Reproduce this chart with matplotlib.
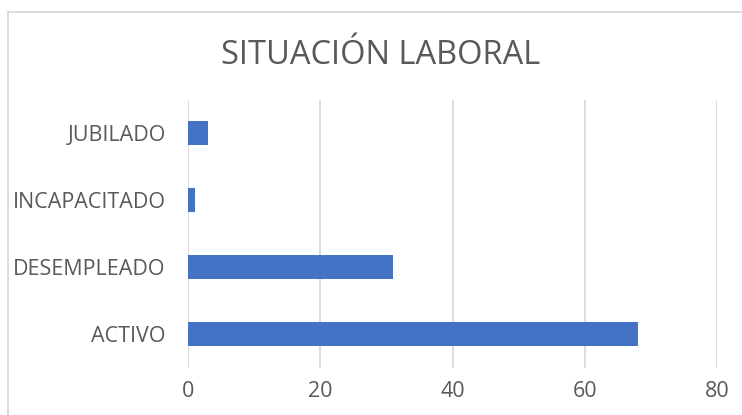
import matplotlib.pyplot as plt
from matplotlib.lines import Line2D

categorias = ["ACTIVO", "DESEMPLEADO", "INCAPACITADO", "JUBILADO"]
valores = [68, 31, 1, 3]
ticks_x = [0, 20, 40, 60, 80]

plt.rcParams['font.family'] = ['Open Sans', 'DejaVu Sans']
gris = "#595959"

fig = plt.figure(figsize=(7.42, 4.15), dpi=100)
ax = fig.add_axes([188/742, 1 - 367.5/415, (717-188)/742, (367.5-99.5)/415])

ax.barh(range(len(categorias)), valores, height=0.36, color="#4472C4", zorder=3)
ax.set_xlim(0, 80)
ax.set_ylim(-0.5, len(categorias) - 0.5)
ax.set_xticks(ticks_x)
ax.set_yticks(range(len(categorias)))
ax.set_yticklabels(categorias)
ax.grid(axis="x", color="#D9D9D9", linewidth=1.3, zorder=0)
for s in ax.spines.values():
    s.set_visible(False)
ax.tick_params(axis="both", length=0, colors=gris, labelsize=15.5)
ax.tick_params(axis="y", pad=16)
ax.tick_params(axis="x", pad=10)

fig.text(381/742, 1 - 55/415, "SITUACIÓN LABORAL", ha="center", va="center",
         fontsize=23.5, color=gris)

# borde del gráfico
fig.add_artist(Line2D([8/742, 8/742], [0, 1 - 12/415], transform=fig.transFigure,
                      color="#D9D9D9", linewidth=1.3))
fig.add_artist(Line2D([8/742, 1], [1 - 12/415, 1 - 12/415], transform=fig.transFigure,
                      color="#D9D9D9", linewidth=1.3))

fig.savefig("out.png", dpi=100)
